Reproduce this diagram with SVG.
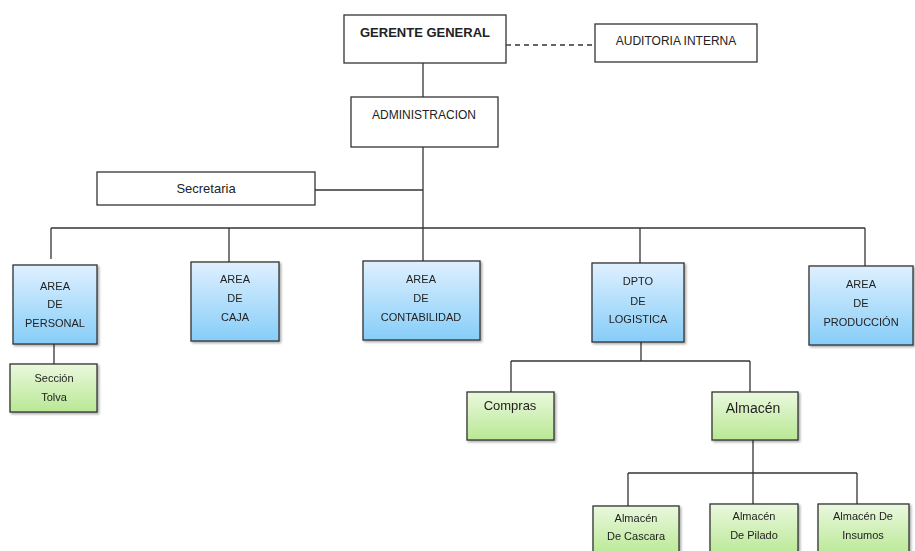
<svg xmlns="http://www.w3.org/2000/svg" width="915" height="551" viewBox="0 0 915 551">
<style>
.box{fill:#fff;stroke:#333;stroke-width:1.3}
.blue{fill:url(#gb);stroke:#333;stroke-width:1.3}
.green{fill:url(#gg);stroke:#333;stroke-width:1.3}
.ln{stroke:#333;stroke-width:1.3;fill:none}
text{font-family:"Liberation Sans",Arial,sans-serif;fill:#222;text-anchor:middle}
.t12{font-size:12px}
.t11{font-size:11px}
.t13{font-size:13px}
</style>
<defs>
<linearGradient id="gb" x1="0" y1="0" x2="0" y2="1"><stop offset="0" stop-color="#dff0ff"/><stop offset="1" stop-color="#86cdf8"/></linearGradient>
<linearGradient id="gg" x1="0" y1="0" x2="0" y2="1"><stop offset="0" stop-color="#eaf8de"/><stop offset="1" stop-color="#b9e894"/></linearGradient>
<filter id="sh" x="-10%" y="-10%" width="130%" height="130%"><feDropShadow dx="1.5" dy="1.5" stdDeviation="1" flood-color="#000" flood-opacity="0.35"/></filter>
</defs>
<g id="connectors">
<line class="ln" x1="506" y1="45" x2="595" y2="45" stroke-dasharray="5,4"/>
<line class="ln" x1="423" y1="63" x2="423" y2="97"/>
<line class="ln" x1="423" y1="147" x2="423" y2="261"/>
<line class="ln" x1="315" y1="190" x2="423" y2="190"/>
<line class="ln" x1="51" y1="228" x2="865" y2="228"/>
<line class="ln" x1="51" y1="228" x2="51" y2="259"/>
<line class="ln" x1="229" y1="228" x2="229" y2="262"/>
<line class="ln" x1="640" y1="228" x2="640" y2="263"/>
<line class="ln" x1="865" y1="228" x2="865" y2="266"/>
<line class="ln" x1="54" y1="344" x2="54" y2="364"/>
<line class="ln" x1="641" y1="342" x2="641" y2="361"/>
<line class="ln" x1="511" y1="361" x2="750" y2="361"/>
<line class="ln" x1="511" y1="361" x2="511" y2="392"/>
<line class="ln" x1="750" y1="361" x2="750" y2="392"/>
<line class="ln" x1="753" y1="440" x2="753" y2="504"/>
<line class="ln" x1="628" y1="473" x2="857" y2="473"/>
<line class="ln" x1="628" y1="473" x2="628" y2="506"/>
<line class="ln" x1="857" y1="473" x2="857" y2="504"/>
</g>
<g id="gerente"><rect class="box" x="344" y="15" width="162" height="48"/><text x="425" y="37" style="font-size:13px;font-weight:bold">GERENTE GENERAL</text></g>
<g id="auditoria"><rect class="box" x="595" y="24" width="162" height="38"/><text class="t12" x="676" y="45">AUDITORIA INTERNA</text></g>
<g id="administracion"><rect class="box" x="351" y="97" width="147" height="50"/><text class="t12" x="424" y="119">ADMINISTRACION</text></g>
<g id="secretaria"><rect class="box" x="97" y="172" width="218" height="33"/><text class="t13" x="206" y="193">Secretaria</text></g>
<g id="personal" filter="url(#sh)"><rect class="blue" x="13" y="265" width="84" height="79"/><text class="t11" x="55" y="290">AREA</text><text class="t11" x="55" y="308">DE</text><text class="t11" x="55" y="327">PERSONAL</text></g>
<g id="caja" filter="url(#sh)"><rect class="blue" x="191" y="262" width="88" height="79"/><text class="t11" x="235" y="283">AREA</text><text class="t11" x="235" y="302">DE</text><text class="t11" x="235" y="321">CAJA</text></g>
<g id="contabilidad" filter="url(#sh)"><rect class="blue" x="363" y="261" width="117" height="79"/><text class="t11" x="421" y="283">AREA</text><text class="t11" x="421" y="302">DE</text><text class="t11" x="421" y="321">CONTABILIDAD</text></g>
<g id="logistica" filter="url(#sh)"><rect class="blue" x="592" y="263" width="92" height="79"/><text class="t11" x="638" y="285">DPTO</text><text class="t11" x="638" y="305">DE</text><text class="t11" x="638" y="323">LOGISTICA</text></g>
<g id="produccion" filter="url(#sh)"><rect class="blue" x="809" y="266" width="104" height="79"/><text class="t11" x="861" y="288">AREA</text><text class="t11" x="861" y="307">DE</text><text class="t11" x="861" y="326">PRODUCCIÓN</text></g>
<g id="tolva" filter="url(#sh)"><rect class="green" x="10" y="364" width="87" height="48"/><text class="t11" x="54" y="382">Sección</text><text class="t11" x="54" y="401">Tolva</text></g>
<g id="compras" filter="url(#sh)"><rect class="green" x="467" y="392" width="87" height="48"/><text class="t13" x="510" y="410">Compras</text></g>
<g id="almacen" filter="url(#sh)"><rect class="green" x="712" y="392" width="86" height="48"/><text style="font-size:14px" x="753" y="413">Almacén</text></g>
<g id="cascara" filter="url(#sh)"><rect class="green" x="593" y="506" width="86" height="50"/><text class="t11" x="636" y="522">Almacén</text><text class="t11" x="636" y="540">De Cascara</text></g>
<g id="pilado" filter="url(#sh)"><rect class="green" x="710" y="504" width="88" height="52"/><text class="t11" x="754" y="520">Almacén</text><text class="t11" x="754" y="539">De Pilado</text></g>
<g id="insumos" filter="url(#sh)"><rect class="green" x="818" y="504" width="91" height="52"/><text class="t11" x="863" y="520">Almacén De</text><text class="t11" x="863" y="539">Insumos</text></g>
</svg>
